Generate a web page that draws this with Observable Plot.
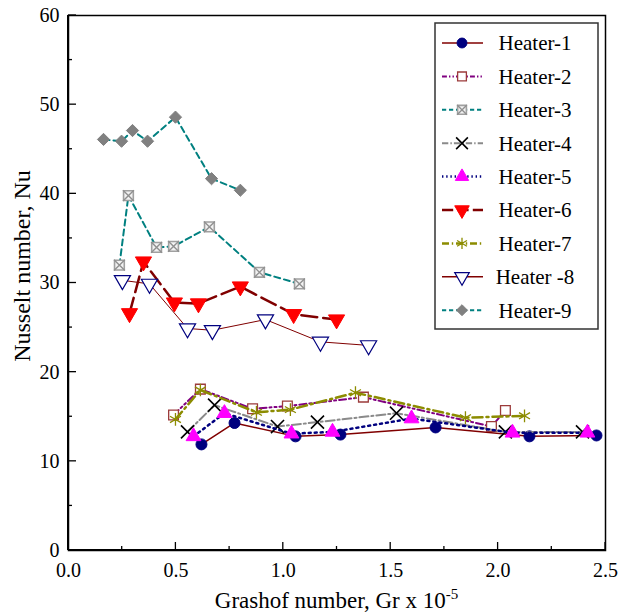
<!DOCTYPE html>
<html><head><meta charset="utf-8">
<script src="https://cdn.jsdelivr.net/npm/d3@7"></script>
<script src="https://cdn.jsdelivr.net/npm/@observablehq/plot@0.6"></script>
<style>
body{margin:0;background:#fff;}
#chart{position:relative;width:620px;height:614px;}
</style>
</head><body><div id="chart"></div>
<script>
// ---- data ----
const seriesNames = ["Heater-1","Heater-2","Heater-3","Heater-4","Heater-5","Heater-6","Heater-7","Heater -8","Heater-9"];
const gr1 = [0.619,0.773,1.057,1.266,1.709,2.146,2.458];
const nu1 = [11.9,14.3,12.8,13.0,13.8,12.8,12.9];
const gr2 = [0.489,0.614,0.857,1.019,1.373,1.969,2.034];
const nu2 = [15.2,18.1,15.9,16.2,17.2,13.9,15.7];
const gr3 = [0.237,0.279,0.41,0.489,0.656,0.889,1.075];
const nu3 = [32.0,39.8,34.0,34.1,36.3,31.2,29.9];
const gr4 = [0.554,0.68,0.973,1.159,1.527,2.034,2.393];
const nu4 = [13.3,16.3,13.9,14.4,15.4,13.3,13.3];
const gr5 = [0.582,0.726,1.038,1.229,1.597,2.067,2.416];
const nu5 = [12.8,15.4,13.1,13.3,14.8,13.2,13.2];
const gr6 = [0.284,0.349,0.493,0.605,0.80,1.048,1.248];
const nu6 = [26.6,32.4,27.8,27.7,29.6,26.5,25.9];
const gr7 = [0.498,0.614,0.875,1.033,1.336,1.848,2.123];
const nu7 = [14.7,18.0,15.5,15.8,17.7,14.9,15.1];
const gr8 = [0.251,0.377,0.554,0.67,0.917,1.173,1.397];
const nu8 = [30.3,29.9,24.9,24.7,25.9,23.4,23.0];
const gr9 = [0.163,0.247,0.298,0.368,0.498,0.666,0.80];
const nu9 = [46.1,45.9,47.1,45.9,48.6,41.7,40.4];

const xTicks = [0,0.5,1.0,1.5,2.0,2.5];
const xMinorTicks = [0.25,0.75,1.25,1.75,2.25];
const yTicks = [0,10,20,30,40,50,60];
const yMinorTicks = [5,15,25,35,45,55];

const grs = [gr1,gr2,gr3,gr4,gr5,gr6,gr7,gr8,gr9];
const nus = [nu1,nu2,nu3,nu4,nu5,nu6,nu7,nu8,nu9];

// ---- styles ----
const FONT = "Liberation Serif, Times New Roman, serif";
const styles = [
  {line:"#800000", dash:null, lw:1.5, marks:[{symbol:"circle", fill:"#00007f", stroke:"#00007f", r:5.5}]},
  {line:"#800080", dash:"7,3,2,3,2,3", lw:2, marks:[{symbol:"square", fill:"white", stroke:"#9c3b3b", r:5.5, sw:1.3}]},
  {line:"#008080", dash:"6,4", lw:2, marks:[{symbol:"square", fill:"#f2f2f2", stroke:"#a0a0a0", r:5.5, sw:1.6},{symbol:"times", fill:"none", stroke:"#909090", r:5, sw:1.4}]},
  {line:"#8a8a8a", dash:"9,3,2,3", lw:2, marks:[{symbol:"times", fill:"none", stroke:"black", r:6, sw:1.6}]},
  {line:"#00007f", dash:"2,4", lw:2.5, marks:[{symbol:"triangle", fill:"#ff00ff", stroke:"#ff00ff", r:5.5}]},
  {line:"#800000", dash:"16,6", lw:2.5, marks:[{symbol:"triangle", fill:"#ff0000", stroke:"#ff0000", r:6, rotate:180}]},
  {line:"#8c8c00", dash:"10,4,2,4", lw:2.5, marks:[{symbol:"asterisk", fill:"none", stroke:"#8c8c00", r:6, sw:1.3}]},
  {line:"#800000", dash:null, lw:1, marks:[{symbol:"triangle", fill:"white", stroke:"#00007f", r:6, rotate:180, sw:1.2}]},
  {line:"#008080", dash:"6,4", lw:2, marks:[{symbol:"diamond2", fill:"#808080", stroke:"#808080", r:5.5}]}
];

const W = 620, H = 614;
const marks = [];
grs.forEach((g, i) => {
  const d = g.map((x, j) => ({x, y: nus[i][j]}));
  const s = styles[i];
  marks.push(Plot.line(d, {x:"x", y:"y", stroke:s.line, strokeWidth:s.lw, strokeDasharray:s.dash ?? undefined}));
  s.marks.forEach(m => {
    marks.push(Plot.dot(d, {x:"x", y:"y", symbol:m.symbol, r:m.r, fill:m.fill, stroke:m.stroke, strokeWidth:m.sw ?? 1, rotate:m.rotate ?? 0}));
  });
});

const chart = Plot.plot({
  width: W, height: H,
  marginLeft: 68, marginRight: 15, marginTop: 15, marginBottom: 64,
  style: {fontFamily: FONT, fontSize: "20px", color: "black", background: "white"},
  x: {domain: [0, 2.5]},
  y: {domain: [0, 60]},
  marks: [
    Plot.axisX({ticks: xTicks, tickSize: 0, tickPadding: 12, tickFormat: d => d.toFixed(1), label: null, fontSize: 20}),
    Plot.axisY({ticks: yTicks, tickSize: 0, tickPadding: 9, tickFormat: d => String(d), label: null, fontSize: 20}),
    ...marks,
    Plot.frame({stroke: "black", strokeWidth: 1.5})
  ]
});
document.getElementById("chart").appendChild(chart);

const svg = d3.select(chart);
svg.style("font-family", FONT);
const xs = chart.scale("x"), ys = chart.scale("y");
const x0 = xs.apply(0), y0 = ys.apply(0), yTop = ys.apply(60);
// inward ticks drawn from the scales
const tg = svg.append("g").attr("stroke", "black").attr("stroke-width", 1.3);
xTicks.forEach(t => tg.append("line").attr("x1", xs.apply(t)).attr("x2", xs.apply(t)).attr("y1", y0).attr("y2", y0 - 8));
xMinorTicks.forEach(t => tg.append("line").attr("x1", xs.apply(t)).attr("x2", xs.apply(t)).attr("y1", y0).attr("y2", y0 - 4));
yTicks.forEach(t => tg.append("line").attr("y1", ys.apply(t)).attr("y2", ys.apply(t)).attr("x1", x0).attr("x2", x0 + 8));
yMinorTicks.forEach(t => tg.append("line").attr("y1", ys.apply(t)).attr("y2", ys.apply(t)).attr("x1", x0).attr("x2", x0 + 4));
// thicker left & bottom axis lines
svg.append("line").attr("x1", x0).attr("x2", xs.apply(2.5)).attr("y1", y0).attr("y2", y0).attr("stroke", "black").attr("stroke-width", 2);
svg.append("line").attr("x1", x0).attr("x2", x0).attr("y1", y0).attr("y2", yTop).attr("stroke", "black").attr("stroke-width", 2);

// axis titles
const xl = svg.append("text").attr("x", (x0 + xs.apply(2.5)) / 2).attr("y", 608).attr("text-anchor", "middle")
  .attr("font-size", 23).attr("fill", "black");
xl.append("tspan").text("Grashof number, Gr x 10");
xl.append("tspan").attr("dy", -9).attr("font-size", 15).text("-5");
svg.append("text").attr("transform", `translate(30,266) rotate(-90)`).attr("text-anchor", "middle")
  .attr("font-size", 24).attr("fill", "black").text("Nusselt number, Nu");

// legend
const lg = svg.append("g");
lg.append("rect").attr("x", 435).attr("y", 23).attr("width", 163).attr("height", 306)
  .attr("fill", "white").attr("stroke", "#333").attr("stroke-width", 1.5);
const symMap = {circle: d3.symbolCircle, square: d3.symbolSquare, times: d3.symbolTimes, triangle: d3.symbolTriangle, asterisk: d3.symbolAsterisk, diamond2: d3.symbolDiamond2};
seriesNames.forEach((name, i) => {
  const s = styles[i];
  const cy = 43 + i * 33.4;
  lg.append("line").attr("x1", 442).attr("x2", 483).attr("y1", cy).attr("y2", cy)
    .attr("stroke", s.line).attr("stroke-width", Math.max(1.5, s.lw)).attr("stroke-dasharray", s.dash ? s.dash.split(",").map(v => v * 0.7).join(",") : null);
  s.marks.forEach(m => {
    const r = m.r * 0.9;
    lg.append("path").attr("d", d3.symbol(symMap[m.symbol], r * r * Math.PI)())
      .attr("transform", `translate(462,${cy}) rotate(${m.rotate ?? 0})`)
      .attr("fill", m.fill).attr("stroke", m.stroke).attr("stroke-width", m.sw ?? 1);
  });
  lg.append("text").attr("x", 535).attr("y", cy).attr("dy", "0.35em").attr("text-anchor", "middle")
    .attr("font-size", 21).attr("fill", "black").text(name);
});
svg.selectAll("text").style("font-family", FONT);
</script>
</body></html>
